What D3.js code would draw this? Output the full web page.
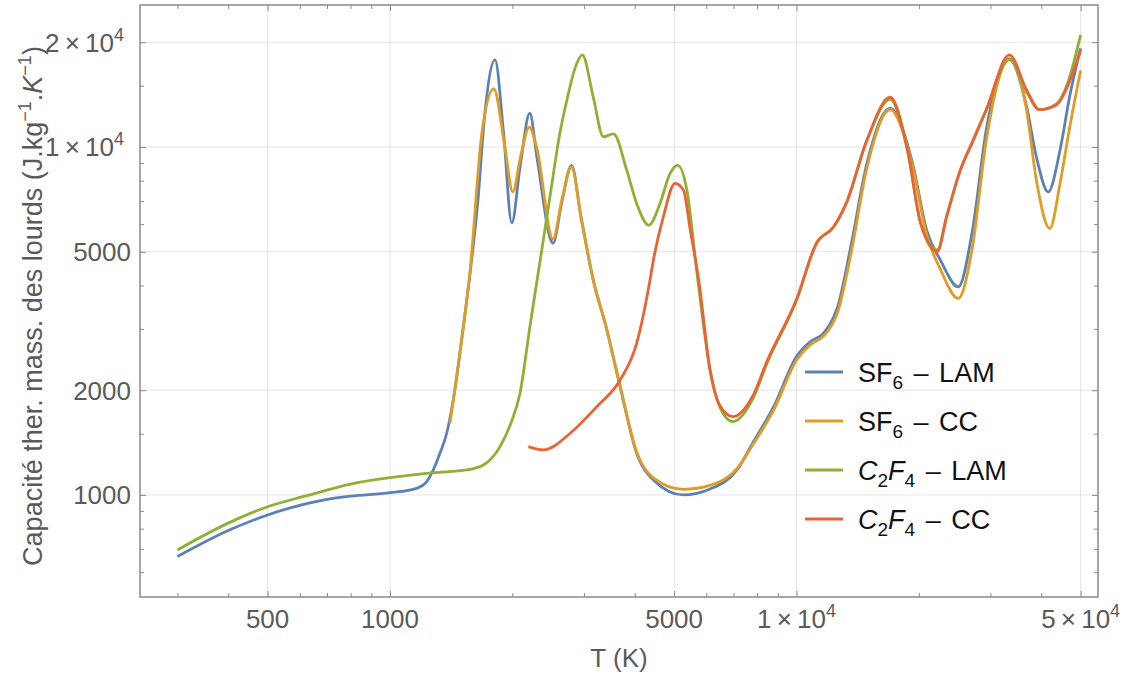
<!DOCTYPE html>
<html><head><meta charset="utf-8">
<script src="https://cdn.jsdelivr.net/npm/d3@7"></script>
<style>
body{margin:0;background:#fff;}
text{font-family:"Liberation Sans",Arial,sans-serif;}
</style></head>
<body><svg id="c" width="1128" height="675"></svg>
<script>
// ---- data ----
const seriesNames = ["SF6 – LAM","SF6 – CC","C2F4 – LAM","C2F4 – CC"];
const seriesColors = ["#5E81B5","#E19C24","#8FB032","#EB6235"];

const tSF6LAM = [300,400,500,685,800,1000,1163,1231,1278,1327,1379,1431,1515,1588,1649,1697,1813,1900,1994,2090,2208,2300,2518,2650,2797,2950,3163,3400,3682,4044,4446,5268,6129,7138,7830,8800,10000,10800,11650,12350,12600,13600,14900,17000,19300,20900,22600,25000,27100,29300,33400,36800,38900,41600,44500,47000,50000];
const cSF6LAM = [665,790,876,967,992,1015,1045,1092,1180,1317,1504,1875,3045,4730,7200,11200,17800,11200,6050,8800,12500,9300,5290,7000,8860,6300,4145,3045,2047,1317,1104,1000,1040,1180,1420,1800,2500,2756,2912,3253,3450,5170,8975,12900,8975,5770,4730,3965,5770,11200,17900,13100,9390,7430,9800,14000,19200];

const tSF6CC = [1405,1486,1574,1682,1800,1917,2005,2100,2201,2294,2518,2650,2797,2950,3163,3400,3682,4044,4446,5268,6129,7138,7830,8800,10000,10800,11650,12350,12600,13600,14900,17000,19300,20900,22600,25000,27100,29300,33400,36800,38900,42000,44500,47000,50000];
const cSF6CC = [1607,2552,4400,10900,14700,10000,7430,9500,11400,10000,5430,7100,8770,6300,4145,3045,2060,1330,1120,1038,1065,1190,1400,1760,2440,2700,2860,3150,3330,4900,8700,12800,8800,5600,4450,3670,5170,10450,17800,12800,8050,5830,7865,11400,16600];

const tC2F4LAM = [300,400,500,624,800,1000,1278,1544,1697,1865,1980,2089,2209,2338,2474,2619,2734,2850,2973,3163,3348,3547,3823,4044,4333,4617,4887,5100,5375,5697,6129,6472,6973,7830,8458,10000,11200,12350,13250,14900,17000,18750,20200,22200,23400,25300,27200,29300,33400,36800,39600,43600,46400,50000];
const cC2F4LAM = [695,830,925,995,1075,1121,1159,1180,1219,1377,1600,1960,3045,4672,7185,10980,13900,16800,18400,13900,10700,10900,8580,6885,5960,6885,8400,8860,7520,4300,2285,1793,1624,1900,2389,3620,5290,5900,6885,10450,13700,9810,6040,5060,6300,8580,10450,12800,17900,14400,12800,13300,15200,21000];

const tC2F4CC = [2190,2385,2775,3225,3682,4044,4362,4446,4703,5025,5270,5480,5747,6129,6472,6973,7830,8458,10000,11200,12350,13250,14900,17000,18750,20200,22200,23400,25300,27200,29300,33400,36800,39600,43600,46400,50000];
const cC2F4CC = [1377,1347,1504,1793,2140,2728,4147,4730,6300,7865,7520,5770,4147,2285,1810,1679,1940,2420,3650,5290,5900,6885,10450,13900,9810,6040,5000,6300,8580,10450,12800,18400,14600,12800,13200,14900,19050];

const xMajor = [500,1000,5000,10000,50000];
const xMinor = [300,400,600,700,800,900,2000,3000,4000,6000,7000,8000,9000,20000,30000,40000];
const yMajor = [1000,2000,5000,10000,20000];
const yMinor = [600,700,800,900,1500,3000,4000,6000,7000,8000,9000,15000];
const xTickLabels = ["500","1000","5000","1|4","5|4"];
const yTickLabels = ["1000","2000","5000","1|4","2|4"];

// ---- layout ----
const L=140,R=1098,T=5,B=597;
const svg=d3.select("#c");
const x=d3.scaleLog().domain([242.7,55170]).range([L,R]);
const y=d3.scaleLog().domain([509,25590]).range([B,T]);

// grid
const grid=svg.append("g").attr("stroke","#e4e4e4").attr("stroke-width",1);
xMajor.forEach(v=>grid.append("line").attr("x1",x(v)).attr("x2",x(v)).attr("y1",T).attr("y2",B));
yMajor.forEach(v=>grid.append("line").attr("y1",y(v)).attr("y2",y(v)).attr("x1",L).attr("x2",R));

// axes with ticks on all sides (inward)
const tickCol="#8a8a8a";
function mk(axisFn, scale, vals, size){
  return axisFn(scale).tickValues(vals).tickSize(size).tickFormat("");
}
const axes=[
  [d3.axisBottom, x, `translate(0,${B})`],
  [d3.axisTop, x, `translate(0,${T})`],
  [d3.axisLeft, y, `translate(${L},0)`],
  [d3.axisRight, y, `translate(${R},0)`]
];
axes.forEach(([fn,sc,tr])=>{
  const isX = sc===x;
  const maj = isX?xMajor:yMajor, mn = isX?xMinor:yMinor;
  [[maj,-6],[mn,-4]].forEach(([vals,sz])=>{
    const g=svg.append("g").attr("transform",tr).call(mk(fn,sc,vals,sz));
    g.select(".domain").remove();
    g.selectAll("line").attr("stroke",tickCol).attr("stroke-width",1);
  });
});
// frame
svg.append("rect").attr("x",L).attr("y",T).attr("width",R-L).attr("height",B-T)
  .attr("fill","none").attr("stroke","#8a8a8a").attr("stroke-width",1.5);

// tick labels
const labCol="#5a5a5a";
function addLabel(sel, s){
  if(s.includes("|")){
    const [m,e]=s.split("|");
    sel.append("tspan").text(m+"\u2009\u00d7\u200910");
    sel.append("tspan").attr("dy",-11).attr("font-size",18).text(e);
  } else sel.text(s);
}
xMajor.forEach((v,i)=>{
  const t=svg.append("text").attr("x",x(v)).attr("y",628).attr("text-anchor","middle")
    .attr("font-size",26).attr("fill",labCol);
  addLabel(t,xTickLabels[i]);
});
yMajor.forEach((v,i)=>{
  const s=yTickLabels[i];
  const t=svg.append("text").attr("x",s.includes("|")?124:131).attr("y",y(v)+9.5).attr("text-anchor","end")
    .attr("font-size",26).attr("fill",labCol);
  addLabel(t,s);
});

// axis titles
svg.append("text").attr("x",(L+R)/2).attr("y",667).attr("text-anchor","middle")
  .attr("font-size",26).attr("fill",labCol).text("T (K)");
const yt=svg.append("text").attr("transform",`translate(42,306) rotate(-90)`)
  .attr("text-anchor","middle").attr("font-size",27).attr("fill",labCol);
yt.append("tspan").text("Capacité ther. mass. des lourds (J.kg");
yt.append("tspan").attr("dy",-11).attr("font-size",18).text("\u22121");
yt.append("tspan").attr("dy",11).text(".");
yt.append("tspan").attr("font-style","italic").text("K");
yt.append("tspan").attr("dy",-11).attr("font-size",18).text("\u22121");
yt.append("tspan").attr("dy",11).text(")");

// curves
const line=d3.line().x(d=>x(d[0])).y(d=>y(d[1])).curve(d3.curveMonotoneX);
const data=[[tSF6LAM,cSF6LAM],[tSF6CC,cSF6CC],[tC2F4LAM,cC2F4LAM],[tC2F4CC,cC2F4CC]];
svg.append("clipPath").attr("id","pc").append("rect").attr("x",L).attr("y",T).attr("width",R-L).attr("height",B-T);
data.forEach(([ts,cs],i)=>{
  svg.append("path").attr("clip-path","url(#pc)").datum(ts.map((t,j)=>[t,cs[j]]))
    .attr("d",line).attr("fill","none").attr("stroke",seriesColors[i]).attr("stroke-width",2.8)
    .attr("stroke-linejoin","round").attr("stroke-linecap","butt");
});

// legend
const legY=[372,421,470,519];
seriesNames.forEach((n,i)=>{
  svg.append("line").attr("x1",805).attr("x2",843).attr("y1",legY[i]).attr("y2",legY[i])
    .attr("stroke",seriesColors[i]).attr("stroke-width",2.8);
  const t=svg.append("text").attr("x",858).attr("y",legY[i]+10).attr("font-size",27)
    .attr("word-spacing",3).attr("fill","#111");
  if(i<2){
    t.append("tspan").text("SF");
    t.append("tspan").attr("dy",7).attr("font-size",19).text("6");
    t.append("tspan").attr("dy",-7).text(i===0?" \u2013 LAM":" \u2013 CC");
  } else {
    t.append("tspan").attr("font-style","italic").text("C");
    t.append("tspan").attr("dy",7).attr("font-size",19).text("2");
    t.append("tspan").attr("dy",-7).attr("font-style","italic").text("F");
    t.append("tspan").attr("dy",7).attr("font-size",19).text("4");
    t.append("tspan").attr("dy",-7).text(i===2?" \u2013 LAM":" \u2013 CC");
  }
});
</script></body></html>
